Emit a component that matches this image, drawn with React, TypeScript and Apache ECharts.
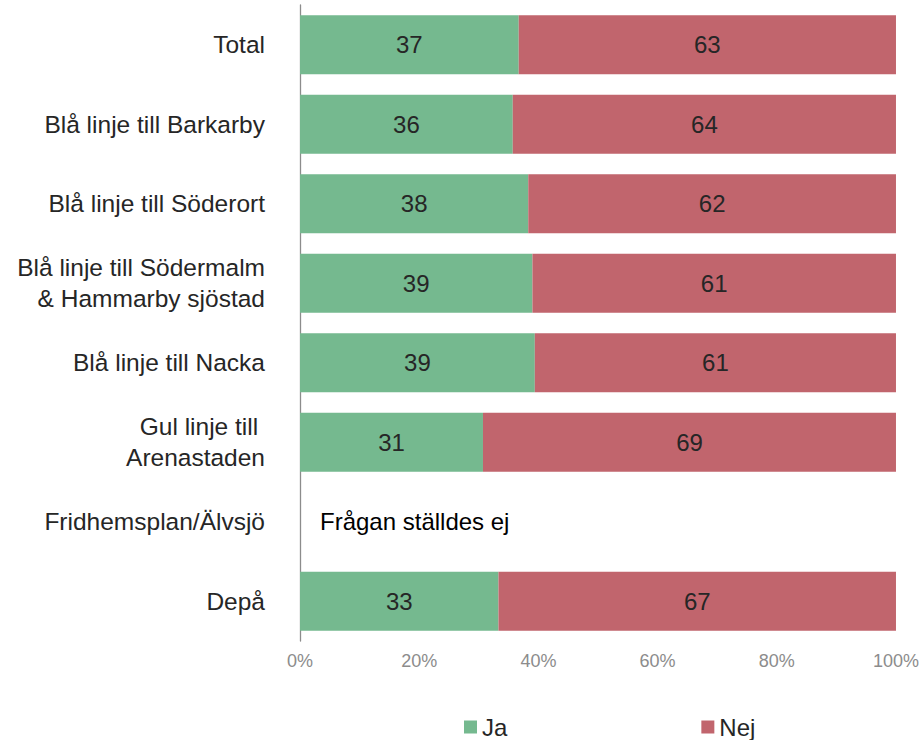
import React, { useEffect, useRef } from "react";
import * as echarts from "echarts";

const categories = [
  "Total",
  "Blå linje till Barkarby",
  "Blå linje till Söderort",
  "Blå linje till Södermalm\n& Hammarby sjöstad",
  "Blå linje till Nacka",
  "Gul linje till \nArenastaden",
  "Fridhemsplan/Älvsjö",
  "Depå",
];
// null = question not asked
const jaValues: (number | null)[] = [36.7, 35.7, 38.3, 39.0, 39.4, 30.7, null, 33.3];
const nejValues: (number | null)[] = jaValues.map((v) => (v === null ? null : +(100 - v).toFixed(1)));
const xTicks = [0, 20, 40, 60, 80, 100];
const notAskedText = "Frågan ställdes ej";

const FONT = "'Liberation Sans', Arial, sans-serif";

export default function App() {
  const ref = useRef<HTMLDivElement>(null);
  useEffect(() => {
    if (!ref.current) return;
    const chart = echarts.init(ref.current, undefined, { renderer: "svg" });
    const labelCommon = {
      show: true,
      position: "inside",
      fontSize: 24,
      fontFamily: FONT,
      color: "#262626",
      formatter: (p: any) => String(Math.round(p.value)),
    };
    chart.setOption({
      animation: false,
      textStyle: { fontFamily: FONT },
      grid: { left: 300, right: 25, top: 5, bottom: 99, containLabel: false },
      legend: {
        left: 464,
        top: 715,
        padding: 0,
        itemWidth: 13,
        itemHeight: 13,
        itemGap: 194,
        itemTextGap: 6,
        icon: "rect",
        textStyle: { fontSize: 24, color: "#262626", fontFamily: FONT },
        data: ["Ja", "Nej"],
      },
      xAxis: {
        type: "value",
        min: xTicks[0],
        max: xTicks[xTicks.length - 1],
        interval: 20,
        axisLine: { show: false },
        axisTick: { show: false },
        splitLine: { show: false },
        axisLabel: {
          formatter: "{value}%",
          fontSize: 18,
          color: "#8c8c8c",
          fontFamily: FONT,
          margin: 11,
        },
      },
      yAxis: {
        type: "category",
        inverse: true,
        data: categories,
        axisLine: { show: true, lineStyle: { color: "#8c8c8c", width: 1.3 } },
        axisTick: { show: false },
        axisLabel: {
          fontSize: 24.5,
          color: "#262626",
          fontFamily: FONT,
          margin: 35,
          lineHeight: 31,
          align: "right",
        },
      },
      series: [
        {
          name: "Ja",
          type: "bar",
          stack: "total",
          barCategoryGap: "26%",
          itemStyle: { color: "#75B98F" },
          label: labelCommon,
          data: jaValues.map((v) =>
            v === null
              ? {
                  value: 0,
                  label: {
                    show: true,
                    position: "right",
                    distance: 20,
                    formatter: notAskedText,
                    color: "#000000",
                    fontSize: 24,
                    fontFamily: FONT,
                  },
                }
              : v
          ),
        },
        {
          name: "Nej",
          type: "bar",
          stack: "total",
          barCategoryGap: "26%",
          itemStyle: { color: "#C1656D" },
          label: labelCommon,
          data: nejValues.map((v) => (v === null ? "-" : v)),
        },
      ],
    });
    return () => chart.dispose();
  }, []);
  return (
    <div
      ref={ref}
      style={{ position: "fixed", left: 0, top: 0, width: 922, height: 740, background: "#fff" }}
    />
  );
}
